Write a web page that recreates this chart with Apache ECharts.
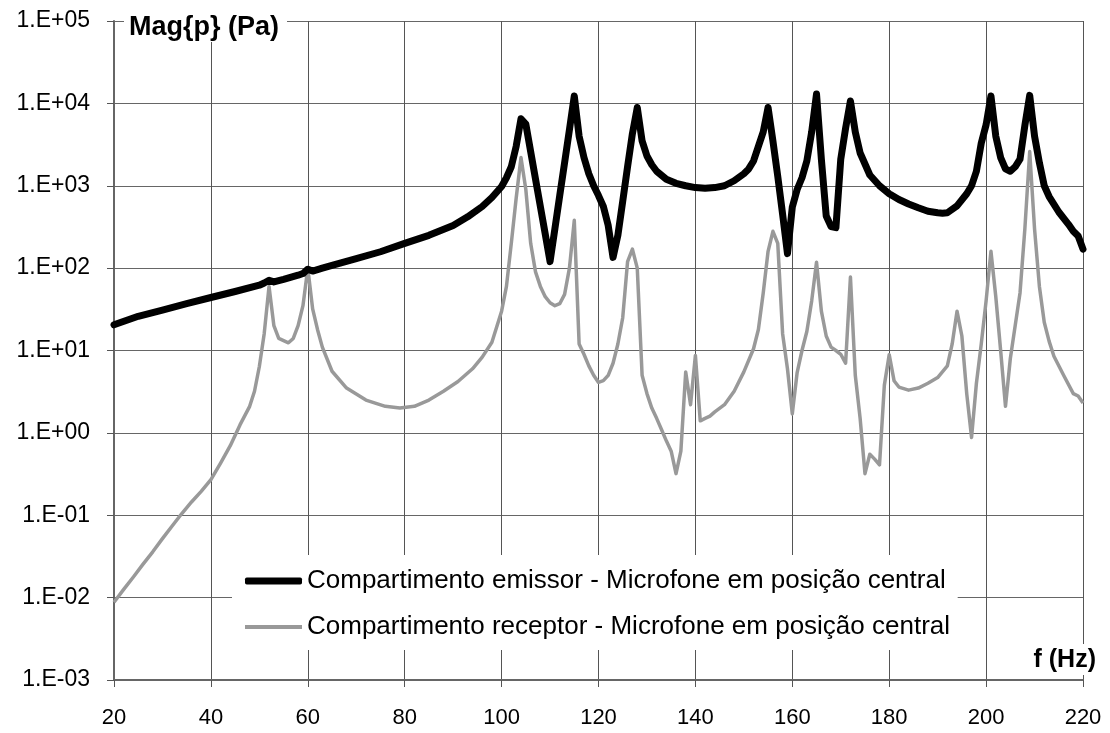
<!DOCTYPE html>
<html>
<head>
<meta charset="utf-8">
<script src="https://cdn.jsdelivr.net/npm/echarts@6/dist/echarts.min.js"></script>
<style>
html,body{margin:0;padding:0;background:#fff;}
#chart{width:1110px;height:733px;}
</style>
</head>
<body>
<div id="chart"></div>
<script>
// Frequency (Hz) / magnitude (Pa) pairs
const emissorFreq = [20,25,30,35,40,45,50,51,52,53,55,58,59,60,61,63,65,70,75,80,85,90,93,96,98,100,101,102,103,104,105,106,107,108,109,110,111,112,113,114,115,116,117,118,119,120,121,122,123,124,125,126,127,128,129,130,131,132,134,136,138,140,142,144,146,148,150,151,152,153,154,155,156,157,158,159,160,161,162,163,164,165,166,167,168,169,170,171,172,173,174,176,178,180,182,184,186,188,190,191,192,194,196,197,198,199,200,201,202,203,204,205,206,207,208,209,210,211,212,213,215,217,218,219,220];
const emissorMag  = [20.5,26,31,37,44,52,62,66,71,68,73,82,86,97,92,100,108,130,158,200,250,330,420,560,720,980,1250,1700,3000,6500,5600,2600,1200,560,260,120,300,760,1900,4800,12300,4000,2200,1400,1000,760,560,330,135,250,650,1700,4300,8900,3500,2300,1800,1500,1200,1070,1000,950,930,950,1000,1150,1400,1600,2000,3000,4500,8900,3500,1300,450,150,550,900,1250,2000,4500,13000,2100,430,320,310,2100,5000,10700,4500,2500,1350,1000,800,680,600,540,490,470,465,470,570,800,1000,1500,3300,5500,12300,4000,2200,1600,1500,1700,2100,5400,12500,4000,1900,1000,740,480,340,280,245,170];

const receptorFreq = [20,22,24,26,28,30,32,34,36,38,40,42,44,46,48,49,50,51,52,53,54,56,57,58,59,60,61,62,63,65,68,72,76,79,82,85,88,91,94,96,98,100,101,102,103,104,105,106,107,108,109,110,111,112,113,114,115,116,117,118,119,120,121,122,123,124,125,126,127,128,129,130,131,132,133,134,135,136,137,138,139,140,141,142,143,144,146,148,150,152,153,154,155,156,157,158,159,160,161,162,163,164,165,166,167,168,169,170,171,172,173,174,175,176,177,178,179,180,181,182,184,186,188,190,192,193,194,195,196,197,198,199,200,201,202,203,204,205,206,207,208,209,210,211,212,213,214,216,218,219,220];
const receptorMag  = [0.0088,0.0126,0.0178,0.0255,0.036,0.052,0.074,0.105,0.145,0.195,0.27,0.43,0.7,1.25,2.1,3.2,6.4,16,60,20,14,12.4,14,20,35,100,32,18,11,5.6,3.5,2.5,2.1,2.0,2.1,2.5,3.2,4.2,6,8.3,12.6,30,60,200,700,2200,900,200,90,60,45,38,35,37,48,100,380,12,9,6.5,5,4.1,4.3,5,7,12,25,120,170,100,5,3,2,1.5,1.1,0.8,0.6,0.32,0.6,5.5,2.2,8.7,1.4,1.5,1.6,1.8,2.2,3.2,5.5,10.5,18,50,160,280,200,16,6,1.7,5.4,10,17,40,118,30,15,11,10,9,7,78,5,1.5,0.32,0.55,0.48,0.41,3.8,8.9,4.3,3.6,3.3,3.5,4,4.7,6.5,12,30,15,3,0.88,4,12,40,160,45,10,2.1,8,20,50,300,2600,300,60,22,13,8.5,5,3,2.8,2.3];

const seriesNames = ['Compartimento emissor - Microfone em posição central',
                     'Compartimento receptor - Microfone em posição central'];
const xTicks = [20,40,60,80,100,120,140,160,180,200,220];
const yAxisTitle = 'Mag{p} (Pa)';
const xAxisTitle = 'f (Hz)';

function pairs(xs, ys){ return xs.map((x,i)=>[x, ys[i]]); }
function sciLabel(v){
  const e = Math.round(Math.log10(v));
  return '1.E' + (e < 0 ? '-' : '+') + String(Math.abs(e)).padStart(2,'0');
}

const chart = echarts.init(document.getElementById('chart'), null, {renderer:'canvas'});
const FONT = 'Arial, "Liberation Sans", sans-serif';
const legendBase = {
  orient:'vertical', left:232, backgroundColor:'#fff',
  itemWidth:57, selectedMode:false,
  textStyle:{color:'#000', fontSize:26, fontFamily:FONT}
};
chart.setOption({
  animation:false,
  backgroundColor:'#fff',
  grid:{left:114, right:27, top:21, bottom:53, containLabel:false},
  xAxis:{
    type:'value', min:xTicks[0], max:xTicks[xTicks.length-1], interval:20,
    axisLine:{show:true, onZero:false, lineStyle:{color:'#666', width:2}},
    axisTick:{show:true, length:7, inside:false, lineStyle:{color:'#555'}},
    axisLabel:{color:'#000', fontSize:22, fontFamily:FONT, margin:27},
    splitLine:{show:true, lineStyle:{color:'#555', width:1}}
  },
  yAxis:{
    type:'log', logBase:10, min:0.001, max:100000, interval:1, splitNumber:8,
    axisLine:{show:true, lineStyle:{color:'#666', width:2}},
    axisTick:{show:true, length:7, inside:false, lineStyle:{color:'#555'}},
    axisLabel:{color:'#000', fontSize:23, fontFamily:FONT, margin:24, formatter:sciLabel},
    splitLine:{show:true, lineStyle:{color:'#666', width:1}},
    minorTick:{show:false}, minorSplitLine:{show:false}
  },
  legend:[
    Object.assign({}, legendBase, {
      top:555, padding:[13,12,5,13], itemHeight:7,
      data:[{name:seriesNames[0], icon:'roundRect'}]
    }),
    Object.assign({}, legendBase, {
      top:599, padding:[15,12,10,13], itemHeight:4,
      data:[{name:seriesNames[1], icon:'rect'}]
    })
  ],
  graphic:[
    {type:'text', left:124, top:13, z:100,
     style:{text:yAxisTitle, font:'bold 27px Arial, "Liberation Sans", sans-serif', fill:'#000',
            backgroundColor:'#fff', padding:[1,8,1,5]}},
    {type:'text', right:10, top:644, z:100,
     style:{text:xAxisTitle, font:'bold 25px Arial, "Liberation Sans", sans-serif', fill:'#000',
            backgroundColor:'#fff', padding:[4,4,2,6]}}
  ],
  series:[
    {name:seriesNames[0], type:'line', data:pairs(emissorFreq, emissorMag),
     symbol:'none', smooth:false, z:3,
     lineStyle:{color:'#000', width:7, cap:'round', join:'round'}, itemStyle:{color:'#000'}},
    {name:seriesNames[1], type:'line', data:pairs(receptorFreq, receptorMag),
     symbol:'none', smooth:false, z:2,
     lineStyle:{color:'#999', width:3.5, join:'round'}, itemStyle:{color:'#999'}}
  ]
});
</script>
</body>
</html>
